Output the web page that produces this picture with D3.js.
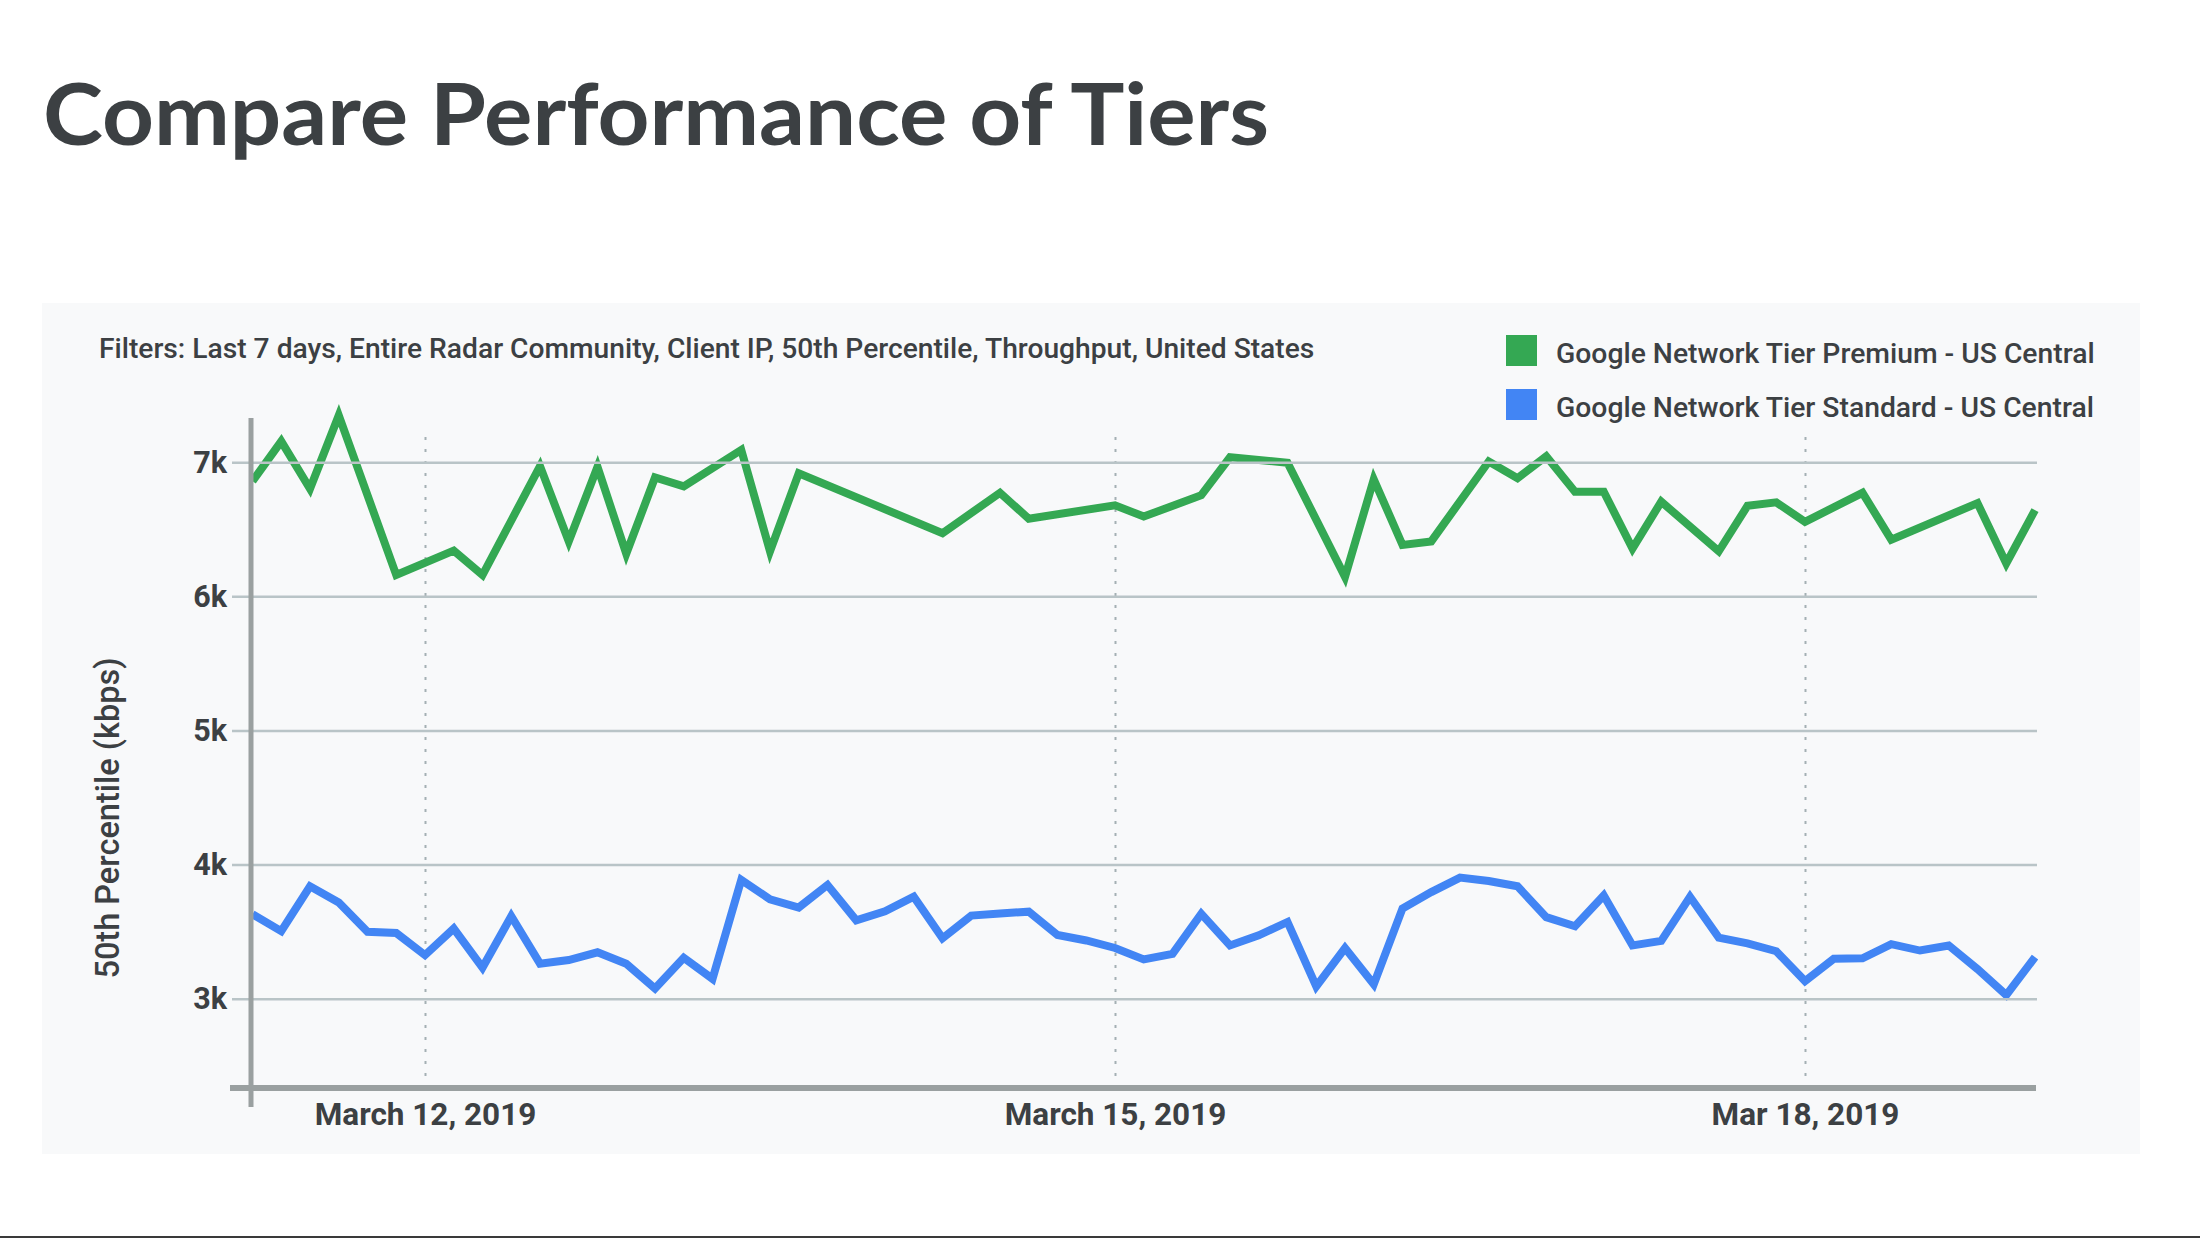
<!DOCTYPE html>
<html><head><meta charset="utf-8">
<script src="https://cdn.jsdelivr.net/npm/d3@7"></script>
<style>
html,body{margin:0;padding:0;background:#fff;}
svg{display:block;}
</style></head>
<body>
<svg id="chart" width="2200" height="1238"></svg>
<script>
// ---------------- DATA ----------------
const chartTitle = "Compare Performance of Tiers";
const filtersText = "Filters: Last 7 days, Entire Radar Community, Client IP, 50th Percentile, Throughput, United States";
const yAxisTitle = "50th Percentile (kbps)";
const seriesNames = ["Google Network Tier Premium - US Central", "Google Network Tier Standard - US Central"];
const seriesColors = ["#34a853", "#4285f4"];
const startTime = "2019-03-11T06:00:00";
const endTime = "2019-03-19T00:00:00";
// hours after startTime
const premiumHours = [0,3,6,9,15,21,24,30,33,36,39,42,45,51,54,57,72,78,81,90,93,99,102,108,114,117,120,123,129,132,135,138,141,144,147,153,156,159,162,168,171,180,183,186];
const premiumValues = [6860,7156,6802,7349,6159,6341,6159,6971,6410,6965,6318,6886,6820,7092,6336,6918,6471,6772,6579,6679,6595,6754,7037,6997,6145,6873,6383,6410,7006,6881,7045,6780,6780,6357,6706,6336,6675,6701,6556,6772,6423,6695,6246,6643];
const standardHours = [0,3,6,9,12,15,18,21,24,27,30,33,36,39,42,45,48,51,54,57,60,63,66,69,72,75,78,81,84,87,90,93,96,99,102,105,108,111,114,117,120,123,126,129,132,135,138,141,144,147,150,153,156,159,162,165,168,171,174,177,180,183,186];
const standardValues = [3630,3504,3838,3717,3499,3490,3325,3523,3232,3615,3261,3288,3346,3261,3076,3305,3148,3886,3741,3680,3848,3584,3651,3760,3450,3620,3635,3649,3475,3434,3378,3293,3334,3632,3397,3472,3572,3092,3378,3107,3673,3795,3903,3877,3838,3608,3540,3770,3397,3431,3760,3455,3412,3354,3131,3298,3301,3407,3359,3397,3221,3027,3310];
const yTicks = [3000,4000,5000,6000,7000];
const xTickDates = ["2019-03-12T00:00:00","2019-03-15T00:00:00","2019-03-18T00:00:00"];
const xTickLabels = ["March 12, 2019","March 15, 2019","Mar 18, 2019"];

// ---------------- DRAW ----------------
const svg = d3.select("#chart");
const parseT = d3.timeParse("%Y-%m-%dT%H:%M:%S");
const t0 = parseT(startTime), t1 = parseT(endTime);
const hourToDate = h => d3.timeHour.offset(t0, h);

const x = d3.scaleTime().domain([t0, t1]).range([252.5, 2035]);
const y = d3.scaleLinear().domain([2334, 7330]).range([1088, 418]);

const textColor = "#3c4043";
const font = "Roboto, 'Noto Sans', Arial, sans-serif";

// page bottom line
svg.append("rect").attr("x",0).attr("y",1236).attr("width",2200).attr("height",2).attr("fill","#3a3a3a");

// panel
svg.append("rect").attr("x",42).attr("y",303).attr("width",2098).attr("height",851).attr("fill","#f8f9fa");

// title
svg.append("text").attr("x",43).attr("y",145)
  .attr("font-family","Lato, 'Open Sans', sans-serif").attr("font-weight",700).attr("font-size",87)
  .attr("textLength",1226).attr("lengthAdjust","spacingAndGlyphs")
  .attr("fill",textColor).text(chartTitle);

// filters
svg.append("text").attr("x",99).attr("y",358)
  .attr("font-family",font).attr("font-weight",500).attr("font-size",28.2)
  .attr("fill",textColor).text(filtersText);

// legend
const legend = svg.append("g");
seriesNames.forEach((name,i)=>{
  const g = legend.append("g").attr("transform",`translate(1506,${335+i*54})`);
  g.append("rect").attr("width",31).attr("height",31).attr("fill",seriesColors[i]);
  g.append("text").attr("x",50).attr("y",27.5)
    .attr("font-family",font).attr("font-weight",500).attr("font-size",28.3)
    .attr("fill",textColor).text(name);
});

// dotted verticals at x ticks
const xTicks = xTickDates.map(parseT);
const vgrid = svg.append("g").attr("transform","translate(0,1088)")
  .call(d3.axisBottom(x).tickValues(xTicks).tickSize(-(1088-428)).tickFormat(""));
vgrid.select(".domain").remove();
vgrid.selectAll(".tick line").attr("stroke","#a4b0b3").attr("stroke-width",2).attr("stroke-dasharray","3 9");

// series lines
const line = d3.line().x(d=>x(d.t)).y(d=>y(d.v));
const premium = premiumHours.map((h,i)=>({t:hourToDate(h), v:premiumValues[i]}));
const standard = standardHours.map((h,i)=>({t:hourToDate(h), v:standardValues[i]}));
[premium, standard].forEach((data,i)=>{
  svg.append("path").datum(data).attr("d",line)
    .attr("fill","none").attr("stroke",seriesColors[i]).attr("stroke-width",8)
    .attr("stroke-linejoin","miter").attr("stroke-miterlimit",4);
});

// horizontal gridlines (drawn over lines)
const gridRight = x.range()[1] + 2;
const gridLeft = 232;
const hgrid = svg.append("g").attr("transform",`translate(${gridRight},0)`)
  .call(d3.axisLeft(y).tickValues(yTicks).tickSize(gridRight-gridLeft).tickFormat(""));
hgrid.select(".domain").remove();
hgrid.selectAll(".tick line").attr("stroke","#b9c4c7").attr("stroke-width",2.5);

// axis lines
const axisColor = "#9aa0a0";
svg.append("line").attr("x1",230).attr("x2",x.range()[1]+1).attr("y1",y.range()[0]).attr("y2",y.range()[0])
  .attr("stroke",axisColor).attr("stroke-width",6);
svg.append("line").attr("x1",251).attr("x2",251).attr("y1",y.range()[1]).attr("y2",y.range()[0]+19)
  .attr("stroke",axisColor).attr("stroke-width",5);

// y tick labels
const yAx = svg.append("g").attr("transform","translate(251,0)")
  .call(d3.axisLeft(y).tickValues(yTicks).tickSize(0).tickPadding(24).tickFormat(d=>(d/1000)+"k"));
yAx.select(".domain").remove();
yAx.selectAll("text").attr("font-family",font).attr("font-weight",700).attr("font-size",30.5).attr("fill",textColor);

// x tick labels
const xAx = svg.append("g").attr("transform",`translate(0,${y.range()[0]})`)
  .call(d3.axisBottom(x).tickValues(xTicks).tickSize(0).tickPadding(15).tickFormat((d,i)=>xTickLabels[i]));
xAx.select(".domain").remove();
xAx.selectAll("text").attr("font-family",font).attr("font-weight",700).attr("font-size",31.5).attr("fill",textColor);

// y axis title
svg.append("text").attr("transform","translate(108,818) rotate(-90)")
  .attr("text-anchor","middle").attr("dominant-baseline","central")
  .attr("font-family",font).attr("font-weight",500).attr("font-size",32.5)
  .attr("fill",textColor).text(yAxisTitle);
</script>
</body></html>
